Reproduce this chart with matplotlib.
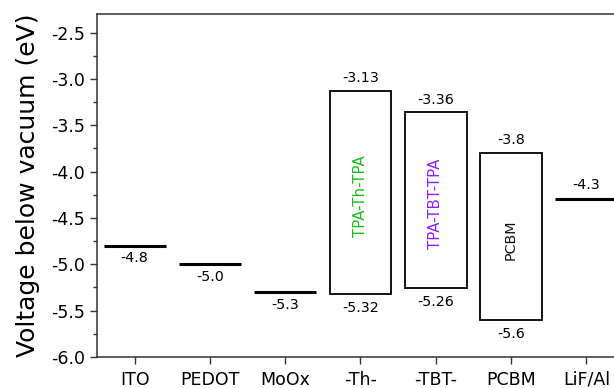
import matplotlib
matplotlib.use("Agg")
import matplotlib.pyplot as plt
from matplotlib.patches import Rectangle
from matplotlib.ticker import MultipleLocator, FormatStrFormatter

plt.rcParams['font.family'] = ['DejaVu Sans']

# Energy levels (eV below vacuum)
categories = ["ITO", "PEDOT", "MoOx", "-Th-", "-TBT-", "PCBM", "LiF/Al"]
# single work-function levels
level_names = ["ITO", "PEDOT", "MoOx", "LiF/Al"]
level_values = [-4.8, -5.0, -5.3, -4.3]
level_labels = ["-4.8", "-5.0", "-5.3", "-4.3"]
# frontier orbitals of the active materials
band_names = ["-Th-", "-TBT-", "PCBM"]
band_lumo = [-3.13, -3.36, -3.8]
band_homo = [-5.32, -5.26, -5.6]
band_lumo_labels = ["-3.13", "-3.36", "-3.8"]
band_homo_labels = ["-5.32", "-5.26", "-5.6"]
band_titles = ["TPA-Th-TPA", "TPA-TBT-TPA", "PCBM"]
band_colors = ["#1fb81f", "#8f1fff", "#111111"]

fig = plt.figure(figsize=(6.14, 3.88), dpi=100)
ax = fig.add_axes([97 / 614, 1 - 357 / 388, (624 - 97) / 614, (357 - 14) / 388])

xpos = {name: i + 1 for i, name in enumerate(categories)}
half = 0.41
val_fs = 10.3

for name, v, lab in zip(level_names, level_values, level_labels):
    x = xpos[name]
    ax.plot([x - half, x + half], [v, v], color="black", lw=2.2, solid_capstyle="butt")
    if name == "LiF/Al":
        ax.annotate(lab, (x, v), xytext=(0, 5), textcoords="offset points",
                    ha="center", va="bottom", fontsize=val_fs)
    else:
        ax.annotate(lab, (x, v), xytext=(0, -4), textcoords="offset points",
                    ha="center", va="top", fontsize=val_fs)

for name, lumo, homo, ll, hl, title, c in zip(band_names, band_lumo, band_homo,
                                              band_lumo_labels, band_homo_labels,
                                              band_titles, band_colors):
    x = xpos[name]
    ax.add_patch(Rectangle((x - half, homo), 2 * half, lumo - homo,
                           facecolor="none", edgecolor="black", lw=1.3))
    ax.annotate(ll, (x, lumo), xytext=(0, 4), textcoords="offset points",
                ha="center", va="bottom", fontsize=val_fs)
    ax.annotate(hl, (x, homo), xytext=(0, -5), textcoords="offset points",
                ha="center", va="top", fontsize=val_fs)
    ax.text(x, (lumo + homo) / 2 - 0.04, title, rotation=90, ha="center", va="center",
            color=c, fontsize=10.8 if title != "PCBM" else 10.3)

ax.set_xlim(0.5, 7.5)
ax.set_ylim(-6.0, -2.3)
ax.set_xticks(range(1, len(categories) + 1))
ax.set_xticklabels(categories)
ax.yaxis.set_major_locator(MultipleLocator(0.5))
ax.yaxis.set_minor_locator(MultipleLocator(0.25))
ax.yaxis.set_major_formatter(FormatStrFormatter("%.1f"))
ax.tick_params(axis="both", which="major", direction="out", length=5, width=1,
               labelsize=12.5, color="#333333")
ax.tick_params(axis="y", which="minor", direction="out", length=3, width=1, color="#333333")
ax.tick_params(axis="x", pad=5)
for s in ax.spines.values():
    s.set_color("#333333")
    s.set_linewidth(1.1)
ax.set_ylabel("Voltage below vacuum (eV)", fontsize=18, labelpad=8)

fig.savefig("out.png", dpi=100)
